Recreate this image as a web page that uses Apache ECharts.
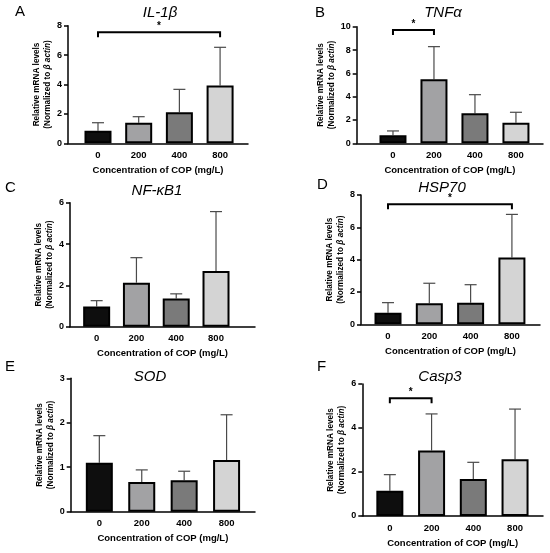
<!DOCTYPE html>
<html>
<head>
<meta charset="utf-8">
<script src="https://cdn.jsdelivr.net/npm/echarts@6/dist/echarts.min.js"></script>
<style>
html,body{margin:0;padding:0;background:#fff;}
#chart{width:550px;height:553px;}
</style>
</head>
<body>
<div id="chart"></div>
<script>
// ---- data ----
const categories = ['0', '200', '400', '800'];
const genes = ['IL-1β', 'TNFα', 'NF-κB1', 'HSP70', 'SOD', 'Casp3'];
const panelLetters = ['A', 'B', 'C', 'D', 'E', 'F'];
const barColors = ['#0e0e0e', '#a2a2a4', '#7a7a7a', '#d4d4d4'];

const il1bMean = [0.86, 1.40, 2.11, 3.94];
const il1bSD   = [0.54, 0.41, 1.56, 2.59];
const tnfMean  = [0.69, 5.49, 2.57, 1.77];
const tnfSD    = [0.37, 2.80, 1.60, 0.89];
const nfkbMean = [0.98, 2.13, 1.36, 2.69];
const nfkbSD   = [0.28, 1.21, 0.23, 2.88];
const hspMean  = [0.72, 1.30, 1.34, 4.14];
const hspSD    = [0.62, 1.24, 1.11, 2.66];
const sodMean  = [1.10, 0.67, 0.71, 1.16];
const sodSD    = [0.61, 0.27, 0.20, 1.02];
const caspMean = [1.15, 2.98, 1.68, 2.58];
const caspSD   = [0.73, 1.66, 0.76, 2.28];

const yMaxes    = [8, 10, 6, 8, 3, 6];
const yIntervals = [2, 2, 2, 2, 1, 2];
// significance brackets: [fromIndex, toIndex, yLevel]
const brackets = [[0, 3, 7.55], [0, 1, 9.71], null, [0, 3, 7.42], null, [0, 1, 5.35]];

const means = [il1bMean, tnfMean, nfkbMean, hspMean, sodMean, caspMean];
const sds = [il1bSD, tnfSD, nfkbSD, hspSD, sodSD, caspSD];

// ---- layout (pixels) ----
const layout = [
  {l: 68,    r: 248, t: 25.7,  b: 143.3, xmin: -0.737, xmax: 3.686, tx: 160, ty: 13,  lx: 15,  ly: 12},
  {l: 356.7, r: 543, t: 26.7,  b: 143.3, xmin: -0.885, xmax: 3.66,  tx: 443, ty: 13,  lx: 315, ly: 13},
  {l: 70,    r: 255, t: 202.7, b: 326.7, xmin: -0.67,  xmax: 3.98,  tx: 157, ty: 191, lx: 5,   ly: 188},
  {l: 361,   r: 540, t: 195,   b: 324.3, xmin: -0.654, xmax: 3.68,  tx: 442, ty: 188, lx: 317, ly: 185},
  {l: 70.7,  r: 255, t: 378.3, b: 511.7, xmin: -0.675, xmax: 3.67,  tx: 150, ty: 377, lx: 5,   ly: 367},
  {l: 362.3, r: 543, t: 384,   b: 516,   xmin: -0.66,  xmax: 3.67,  tx: 440, ty: 377, lx: 317, ly: 367}
];

const FONT = 'Liberation Sans, Arial, sans-serif';

function errRender(params, api) {
  const x = api.value(0), m = api.value(1), s = api.value(2);
  const p0 = api.coord([x, m]), p1 = api.coord([x, m + s]);
  const half = 6;
  const st = {stroke: '#4a4a4a', lineWidth: 1.2};
  return {type: 'group', children: [
    {type: 'line', shape: {x1: p0[0], y1: p0[1], x2: p1[0], y2: p1[1]}, style: st},
    {type: 'line', shape: {x1: p1[0] - half, y1: p1[1], x2: p1[0] + half, y2: p1[1]}, style: st}
  ]};
}

function bracketRender(params, api) {
  const a = api.coord([api.value(0), api.value(2)]);
  const b = api.coord([api.value(1), api.value(2)]);
  const drop = 5;
  const st = {stroke: '#000', lineWidth: 2, fill: 'none'};
  return {type: 'group', children: [
    {type: 'polyline', shape: {points: [[a[0], a[1] + drop], [a[0], a[1]], [b[0], b[1]], [b[0], b[1] + drop]]}, style: st},
    {type: 'text', x: (a[0] + b[0]) / 2, y: a[1] - 1, style: {text: '*', font: 'bold 10px ' + FONT, fill: '#000', align: 'center', verticalAlign: 'bottom'}}
  ]};
}

const grids = [], xAxes = [], yAxes = [], series = [], graphics = [];
layout.forEach((L, k) => {
  grids.push({left: L.l, top: L.t, width: L.r - L.l, height: L.b - L.t, containLabel: false});
  xAxes.push({
    type: 'value', gridIndex: k, min: L.xmin, max: L.xmax,
    splitLine: {show: false},
    axisLine: {show: true, onZero: false, lineStyle: {color: '#000', width: 1.5}},
    axisTick: {show: false},
    axisLabel: {
      customValues: [0, 1, 2, 3], margin: 7,
      formatter: v => categories[Math.round(v)],
      fontFamily: FONT, fontWeight: 'bold', fontSize: 9.5, color: '#000'
    },
    name: 'Concentration of COP (mg/L)', nameLocation: 'middle', nameGap: 22,
    nameTextStyle: {fontFamily: FONT, fontWeight: 'bold', fontSize: 9.5, color: '#000'}
  });
  yAxes.push({
    type: 'value', gridIndex: k, min: 0, max: yMaxes[k], interval: yIntervals[k],
    splitLine: {show: false},
    axisLine: {show: true, onZero: false, lineStyle: {color: '#000', width: 1.5}},
    axisTick: {show: true, length: 4, lineStyle: {color: '#000', width: 1.5}},
    axisLabel: {margin: 6, fontFamily: FONT, fontWeight: 'bold', fontSize: 9, color: '#000'},
    name: '{a|Relative mRNA levels}\n{a|(Normalized to }{i|β actin}{a|)}',
    nameLocation: 'middle', nameGap: 13, nameRotate: 90,
    nameTextStyle: {
      lineHeight: 11,
      rich: {
        a: {fontFamily: FONT, fontWeight: 'bold', fontSize: 8.2, color: '#000', lineHeight: 11},
        i: {fontFamily: FONT, fontWeight: 'bold', fontStyle: 'italic', fontSize: 8.2, color: '#000', lineHeight: 11}
      }
    }
  });
  series.push({
    type: 'custom', xAxisIndex: k, yAxisIndex: k, z: 1, silent: true,
    renderItem: errRender,
    data: means[k].map((m, i) => [i, m, sds[k][i]])
  });
  series.push({
    type: 'bar', xAxisIndex: k, yAxisIndex: k, z: 2, barWidth: 27, silent: true,
    data: means[k].map((m, i) => ({value: [i, m], itemStyle: {color: barColors[i], borderColor: '#000', borderWidth: 2}}))
  });
  if (brackets[k]) {
    series.push({
      type: 'custom', xAxisIndex: k, yAxisIndex: k, z: 3, silent: true,
      renderItem: bracketRender, data: [brackets[k]]
    });
  }
  graphics.push({type: 'text', x: L.tx, y: L.ty, style: {text: genes[k], font: 'italic 15px ' + FONT, fill: '#000', align: 'center', verticalAlign: 'middle'}});
  graphics.push({type: 'text', x: L.lx, y: L.ly, style: {text: panelLetters[k], font: '15px ' + FONT, fill: '#000', align: 'left', verticalAlign: 'middle'}});
});

const chart = echarts.init(document.getElementById('chart'), null, {renderer: 'canvas'});
chart.setOption({
  backgroundColor: '#fff',
  animation: false,
  grid: grids, xAxis: xAxes, yAxis: yAxes, series: series, graphic: graphics
});
</script>
</body>
</html>
